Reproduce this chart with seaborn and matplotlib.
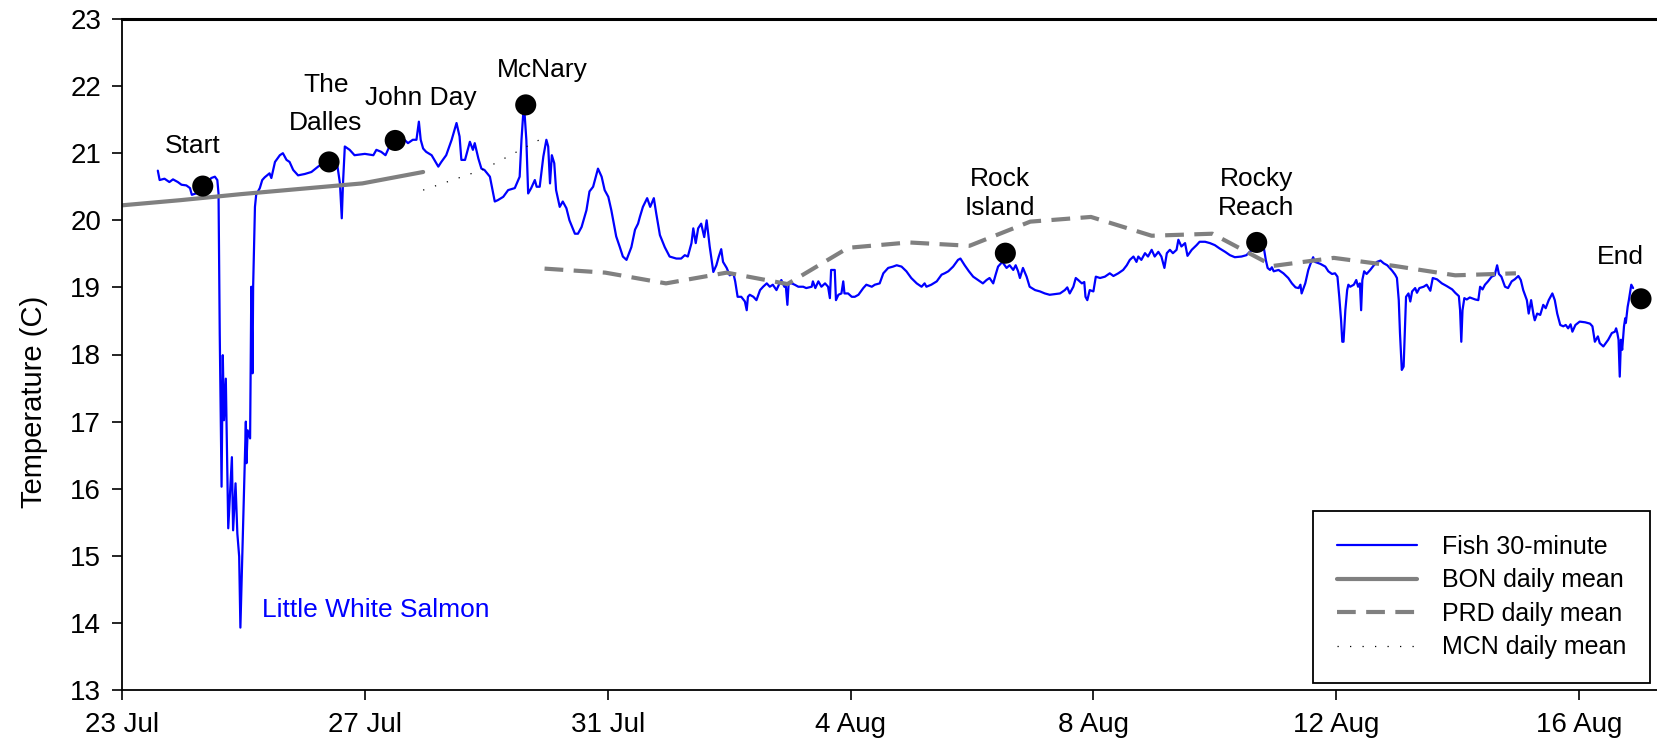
import pandas as pd
import numpy as np
import matplotlib
matplotlib.use("Agg")
import matplotlib.pyplot as plt
import matplotlib.dates as mdates
from matplotlib.ticker import FuncFormatter
import seaborn as sns

sns.set_style("ticks")
plt.rcParams['font.family'] = ['Liberation Sans', 'DejaVu Sans']
plt.rcParams['text.color'] = 'black'
plt.rcParams['axes.labelcolor'] = 'black'
plt.rcParams['xtick.color'] = 'black'
plt.rcParams['ytick.color'] = 'black'

# Start of record, everything below is days after this
START = pd.Timestamp('2008-07-23')

# Fish 30-minute temperature trace
fish_day = [0.59, 0.62, 0.70, 0.78, 0.84, 0.92, 0.98, 1.06, 1.12, 1.15, 1.22, 1.30, 1.40, 1.47, 1.53, 1.57,
            1.59, 1.61, 1.64, 1.66, 1.68, 1.71, 1.75, 1.81, 1.83, 1.87, 1.90, 1.93, 1.95, 2.00, 2.04, 2.05,
            2.07, 2.11, 2.13, 2.15, 2.16, 2.19, 2.21, 2.27, 2.31, 2.35, 2.43, 2.46, 2.52, 2.60, 2.65, 2.71,
            2.76, 2.82, 2.90, 3.01, 3.12, 3.23, 3.31, 3.45, 3.51, 3.55, 3.59, 3.62, 3.64, 3.67, 3.75, 3.83,
            4.00, 4.14, 4.19, 4.27, 4.34, 4.44, 4.63, 4.71, 4.79, 4.85, 4.89, 4.92, 4.96, 5.01, 5.10, 5.21,
            5.26, 5.34, 5.43, 5.51, 5.56, 5.59, 5.65, 5.73, 5.78, 5.81, 5.87, 5.92, 5.97, 6.06, 6.14, 6.19,
            6.28, 6.36, 6.47, 6.55, 6.58, 6.62, 6.66, 6.69, 6.74, 6.80, 6.83, 6.88, 6.94, 6.99, 7.02, 7.05,
            7.08, 7.12, 7.15, 7.21, 7.26, 7.32, 7.37, 7.46, 7.51, 7.57, 7.65, 7.70, 7.76, 7.84, 7.90, 7.95,
            8.01, 8.06, 8.14, 8.20, 8.25, 8.31, 8.39, 8.45, 8.50, 8.53, 8.58, 8.65, 8.70, 8.76, 8.80, 8.86,
            8.94, 9.02, 9.13, 9.21, 9.27, 9.32, 9.38, 9.41, 9.45, 9.49, 9.54, 9.59, 9.63, 9.68, 9.74, 9.79,
            9.83, 9.87, 9.90, 9.96, 10.01, 10.07, 10.10, 10.14, 10.20, 10.26, 10.29, 10.31, 10.34, 10.40, 10.45, 10.51,
            10.56, 10.62, 10.67, 10.72, 10.78, 10.83, 10.86, 10.91, 10.93, 10.96, 10.98, 11.03, 11.08, 11.14, 11.22, 11.27,
            11.36, 11.38, 11.42, 11.47, 11.52, 11.58, 11.63, 11.66, 11.68, 11.74, 11.76, 11.80, 11.85, 11.88, 11.90, 11.96,
            12.02, 12.07, 12.13, 12.21, 12.26, 12.35, 12.40, 12.48, 12.54, 12.62, 12.70, 12.76, 12.84, 12.92, 13.00, 13.09,
            13.17, 13.22, 13.25, 13.33, 13.42, 13.50, 13.55, 13.61, 13.69, 13.77, 13.81, 13.88, 13.95, 14.02, 14.10, 14.18,
            14.24, 14.29, 14.35, 14.39, 14.43, 14.50, 14.54, 14.57, 14.62, 14.68, 14.72, 14.76, 14.79, 14.84, 14.90, 14.95,
            15.04, 15.12, 15.20, 15.28, 15.37, 15.45, 15.53, 15.57, 15.61, 15.67, 15.71, 15.75, 15.81, 15.85, 15.87, 15.90,
            15.94, 16.00, 16.04, 16.11, 16.19, 16.27, 16.33, 16.41, 16.49, 16.55, 16.60, 16.66, 16.71, 16.74, 16.79, 16.85,
            16.90, 16.96, 17.01, 17.07, 17.12, 17.17, 17.21, 17.26, 17.31, 17.37, 17.40, 17.45, 17.51, 17.55, 17.62, 17.70,
            17.75, 17.84, 17.92, 18.00, 18.08, 18.17, 18.25, 18.33, 18.44, 18.52, 18.61, 18.70, 18.80, 18.84, 18.87, 18.91,
            18.94, 18.97, 19.05, 19.13, 19.21, 19.27, 19.33, 19.38, 19.41, 19.43, 19.49, 19.54, 19.58, 19.62, 19.65, 19.74,
            19.82, 19.87, 19.93, 19.98, 20.02, 20.05, 20.08, 20.10, 20.12, 20.15, 20.18, 20.20, 20.23, 20.29, 20.33, 20.36,
            20.39, 20.41, 20.43, 20.46, 20.50, 20.56, 20.62, 20.67, 20.73, 20.78, 20.84, 20.92, 20.97, 21.00, 21.03, 21.05,
            21.08, 21.11, 21.13, 21.15, 21.19, 21.22, 21.25, 21.30, 21.33, 21.37, 21.44, 21.49, 21.55, 21.59, 21.66, 21.74,
            21.82, 21.91, 21.96, 22.02, 22.04, 22.06, 22.08, 22.11, 22.15, 22.20, 22.29, 22.34, 22.37, 22.41, 22.45, 22.50,
            22.56, 22.61, 22.65, 22.68, 22.72, 22.78, 22.83, 22.89, 22.94, 23.00, 23.04, 23.08, 23.14, 23.17, 23.21, 23.25,
            23.27, 23.31, 23.36, 23.41, 23.45, 23.50, 23.56, 23.60, 23.64, 23.69, 23.74, 23.78, 23.82, 23.86, 23.89, 23.94,
            24.01, 24.10, 24.18, 24.22, 24.26, 24.31, 24.34, 24.40, 24.44, 24.48, 24.54, 24.59, 24.61, 24.63, 24.65, 24.67,
            24.69, 24.71, 24.74, 24.76, 24.77, 24.80, 24.82, 24.86, 24.89]
fish_temp = [20.74, 20.60, 20.62, 20.57, 20.61, 20.57, 20.53, 20.52, 20.48, 20.38, 20.40, 20.45, 20.55, 20.63, 20.65, 20.60,
             20.40, 18.30, 16.03, 17.99, 17.02, 17.64, 15.41, 16.47, 15.38, 16.08, 15.33, 14.99, 13.93, 15.63, 17.00, 16.38,
             16.87, 16.75, 19.01, 17.72, 19.01, 20.20, 20.38, 20.48, 20.60, 20.64, 20.70, 20.63, 20.87, 20.97, 21.00, 20.90,
             20.87, 20.75, 20.67, 20.69, 20.72, 20.80, 20.85, 20.90, 20.80, 20.80, 20.55, 20.03, 20.55, 21.10, 21.05, 20.97,
             20.99, 20.97, 21.05, 21.02, 20.97, 21.17, 21.22, 21.15, 21.20, 21.20, 21.47, 21.20, 21.07, 21.02, 20.97, 20.80,
             20.87, 20.97, 21.20, 21.45, 21.25, 20.90, 20.90, 21.17, 21.05, 21.15, 20.92, 20.77, 20.75, 20.65, 20.28, 20.30,
             20.35, 20.45, 20.48, 20.65, 21.20, 21.74, 21.20, 20.40, 20.48, 20.60, 20.50, 20.50, 20.95, 21.20, 21.10, 20.55,
             20.97, 20.85, 20.45, 20.20, 20.28, 20.18, 20.00, 19.80, 19.80, 19.90, 20.15, 20.43, 20.50, 20.77, 20.65, 20.45,
             20.35, 20.15, 19.76, 19.60, 19.46, 19.41, 19.60, 19.86, 19.95, 20.05, 20.20, 20.33, 20.20, 20.33, 20.10, 19.78,
             19.60, 19.46, 19.43, 19.43, 19.48, 19.46, 19.66, 19.88, 19.66, 19.88, 19.95, 19.75, 20.00, 19.61, 19.23, 19.33,
             19.46, 19.57, 19.38, 19.29, 19.18, 19.21, 19.09, 18.86, 18.86, 18.79, 18.66, 18.86, 18.89, 18.86, 18.81, 18.96,
             19.01, 19.06, 19.01, 19.04, 18.96, 19.06, 19.11, 19.01, 19.06, 18.74, 19.06, 19.06, 19.04, 19.01, 19.01, 18.99,
             19.01, 19.09, 18.99, 19.09, 19.01, 19.06, 19.01, 18.84, 19.26, 19.26, 18.81, 18.89, 18.91, 19.09, 18.91, 18.91,
             18.86, 18.86, 18.89, 18.99, 19.04, 19.01, 19.04, 19.06, 19.21, 19.29, 19.31, 19.33, 19.31, 19.24, 19.14, 19.06,
             19.01, 19.06, 19.01, 19.04, 19.09, 19.19, 19.21, 19.24, 19.31, 19.41, 19.43, 19.33, 19.24, 19.16, 19.11, 19.06,
             19.11, 19.14, 19.06, 19.19, 19.31, 19.38, 19.33, 19.29, 19.33, 19.26, 19.33, 19.24, 19.14, 19.29, 19.16, 19.01,
             18.96, 18.94, 18.91, 18.89, 18.90, 18.91, 18.96, 19.00, 18.91, 19.01, 19.14, 19.11, 19.06, 19.08, 18.86, 18.81,
             18.96, 18.94, 19.16, 19.14, 19.16, 19.21, 19.17, 19.21, 19.26, 19.33, 19.41, 19.46, 19.38, 19.46, 19.41, 19.51,
             19.46, 19.56, 19.46, 19.53, 19.46, 19.29, 19.51, 19.56, 19.51, 19.56, 19.71, 19.61, 19.66, 19.47, 19.56, 19.63,
             19.68, 19.68, 19.66, 19.63, 19.58, 19.53, 19.48, 19.45, 19.46, 19.48, 19.56, 19.63, 19.63, 19.41, 19.29, 19.26,
             19.30, 19.24, 19.26, 19.21, 19.14, 19.06, 19.00, 18.99, 19.04, 18.91, 19.06, 19.26, 19.36, 19.45, 19.38, 19.35,
             19.31, 19.24, 19.20, 19.21, 19.16, 18.86, 18.51, 18.19, 18.19, 18.66, 18.96, 19.04, 19.01, 19.04, 19.11, 19.01,
             19.06, 18.66, 19.11, 19.24, 19.20, 19.26, 19.33, 19.38, 19.40, 19.36, 19.33, 19.25, 19.19, 19.14, 18.81, 18.32,
             17.77, 17.82, 18.32, 18.86, 18.91, 18.79, 18.94, 18.99, 18.92, 18.99, 19.01, 19.04, 18.95, 19.14, 19.12, 19.06,
             19.02, 18.97, 18.92, 18.87, 18.66, 18.19, 18.66, 18.84, 18.82, 18.85, 18.82, 18.81, 19.01, 18.97, 19.04, 19.09,
             19.16, 19.18, 19.33, 19.20, 19.16, 19.01, 18.99, 19.09, 19.12, 19.17, 19.11, 18.96, 18.81, 18.61, 18.81, 18.59,
             18.51, 18.61, 18.59, 18.74, 18.69, 18.81, 18.91, 18.81, 18.61, 18.44, 18.42, 18.44, 18.39, 18.45, 18.34, 18.44,
             18.49, 18.48, 18.46, 18.42, 18.19, 18.27, 18.17, 18.12, 18.17, 18.22, 18.32, 18.34, 18.39, 18.32, 18.22, 17.67,
             18.22, 18.07, 18.42, 18.54, 18.47, 18.71, 18.81, 19.04, 18.99]

# Dam daily means
bon_day = [-0.04, 0.96, 1.96, 2.96, 3.96, 4.96]
bon_temp = [20.22, 20.30, 20.39, 20.47, 20.55, 20.72]
prd_day = [6.96, 7.96, 8.96, 9.96, 10.96, 11.96, 12.96, 13.96, 14.96, 15.96, 16.96, 17.96, 18.96, 19.96, 20.96, 21.96, 22.96]
prd_temp = [19.28, 19.22, 19.06, 19.22, 19.05, 19.59, 19.67, 19.62, 19.98, 20.05, 19.77, 19.80, 19.32, 19.44, 19.32, 19.18, 19.21]
mcn_day = [4.96, 5.96, 6.96]
mcn_temp = [20.45, 20.76, 21.24]

# Passage points
stop_names = ['Start', 'The\nDalles', 'John Day', 'McNary', 'Rock\nIsland', 'Rocky\nReach', 'End']
stop_day = [1.33, 3.41, 4.50, 6.65, 14.55, 18.69, 25.02]
stop_temp = [20.51, 20.87, 21.19, 21.72, 19.51, 19.67, 18.83]
label_day = [1.17, 3.36, 4.93, 6.92, 14.46, 18.68, 24.68]
label_temp = [21.11, 21.73, 21.82, 22.24, 20.40, 20.40, 19.45]
label_spacing = [1.2, 1.75, 1.2, 1.2, 1.3, 1.3, 1.2]

tick_days = [0, 4, 8, 12, 16, 20, 24]


def to_time(days):
    return START + pd.to_timedelta(days, unit='D')


fig = plt.figure(figsize=(16.58, 7.46), dpi=100)
ax = fig.add_axes([122 / 1658, 1 - 690 / 746, (1658 - 122) / 1658, (690 - 19) / 746])

sns.lineplot(x=to_time(fish_day), y=fish_temp, sort=False, estimator=None, color='#0000FF',
             lw=1.6, label='Fish 30-minute', ax=ax)
sns.lineplot(x=to_time(bon_day), y=bon_temp, sort=False, estimator=None, color='#808080',
             lw=3, label='BON daily mean', ax=ax)
sns.lineplot(x=to_time(prd_day), y=prd_temp, sort=False, estimator=None, color='#808080',
             lw=3, label='PRD daily mean', ax=ax)
sns.lineplot(x=to_time(mcn_day), y=mcn_temp, sort=False, estimator=None, color='black',
             lw=0.9, label='MCN daily mean', ax=ax)
ax.lines[2].set_linestyle((0, (4.5, 2.5)))
ax.lines[3].set_linestyle((0, (1, 9)))

sns.scatterplot(x=to_time(stop_day), y=stop_temp, color='black', s=230, edgecolor='none',
                zorder=5, legend=False, ax=ax, clip_on=False)

for name, d, t, ls in zip(stop_names, label_day, label_temp, label_spacing):
    ax.text(to_time(d), t, name, ha='center', va='center', fontsize=19, linespacing=ls)

ax.text(to_time(2.31), 14.19, 'Little White Salmon', color='#0000FF', fontsize=19,
        ha='left', va='center')

ax.set_xlim(to_time(0), to_time(25.3))
ax.set_ylim(13, 23)
ax.set_yticks(range(13, 24))
ax.set_xticks(to_time(tick_days))
ax.xaxis.set_major_formatter(FuncFormatter(
    lambda x, pos: mdates.num2date(x).strftime('%d %b').lstrip('0')))
ax.set_xlabel('')
ax.set_ylabel('Temperature (C)', fontsize=21)
ax.yaxis.set_label_coords(-0.048, 0.43)
ax.tick_params(axis='both', labelsize=20, direction='out', length=7, width=1.2, color='black')
ax.tick_params(axis='x', pad=9)
ax.tick_params(axis='y', pad=8)

for side in ['left', 'bottom']:
    ax.spines[side].set_linewidth(1.3)
    ax.spines[side].set_color('black')
ax.spines['top'].set_linewidth(2.2)
ax.spines['top'].set_color('black')
ax.spines['right'].set_visible(False)

leg = ax.legend(loc='lower right', bbox_to_anchor=(1650 / 1658, 1 - 683 / 746),
                bbox_transform=fig.transFigure, fontsize=18, frameon=True, fancybox=False,
                handlelength=3.2, handletextpad=1.0, labelspacing=0.38, borderpad=0.95,
                borderaxespad=0)
leg.get_frame().set_edgecolor('black')
leg.get_frame().set_linewidth(1.3)
leg.get_frame().set_alpha(1)

fig.savefig('out.png', dpi=100)
